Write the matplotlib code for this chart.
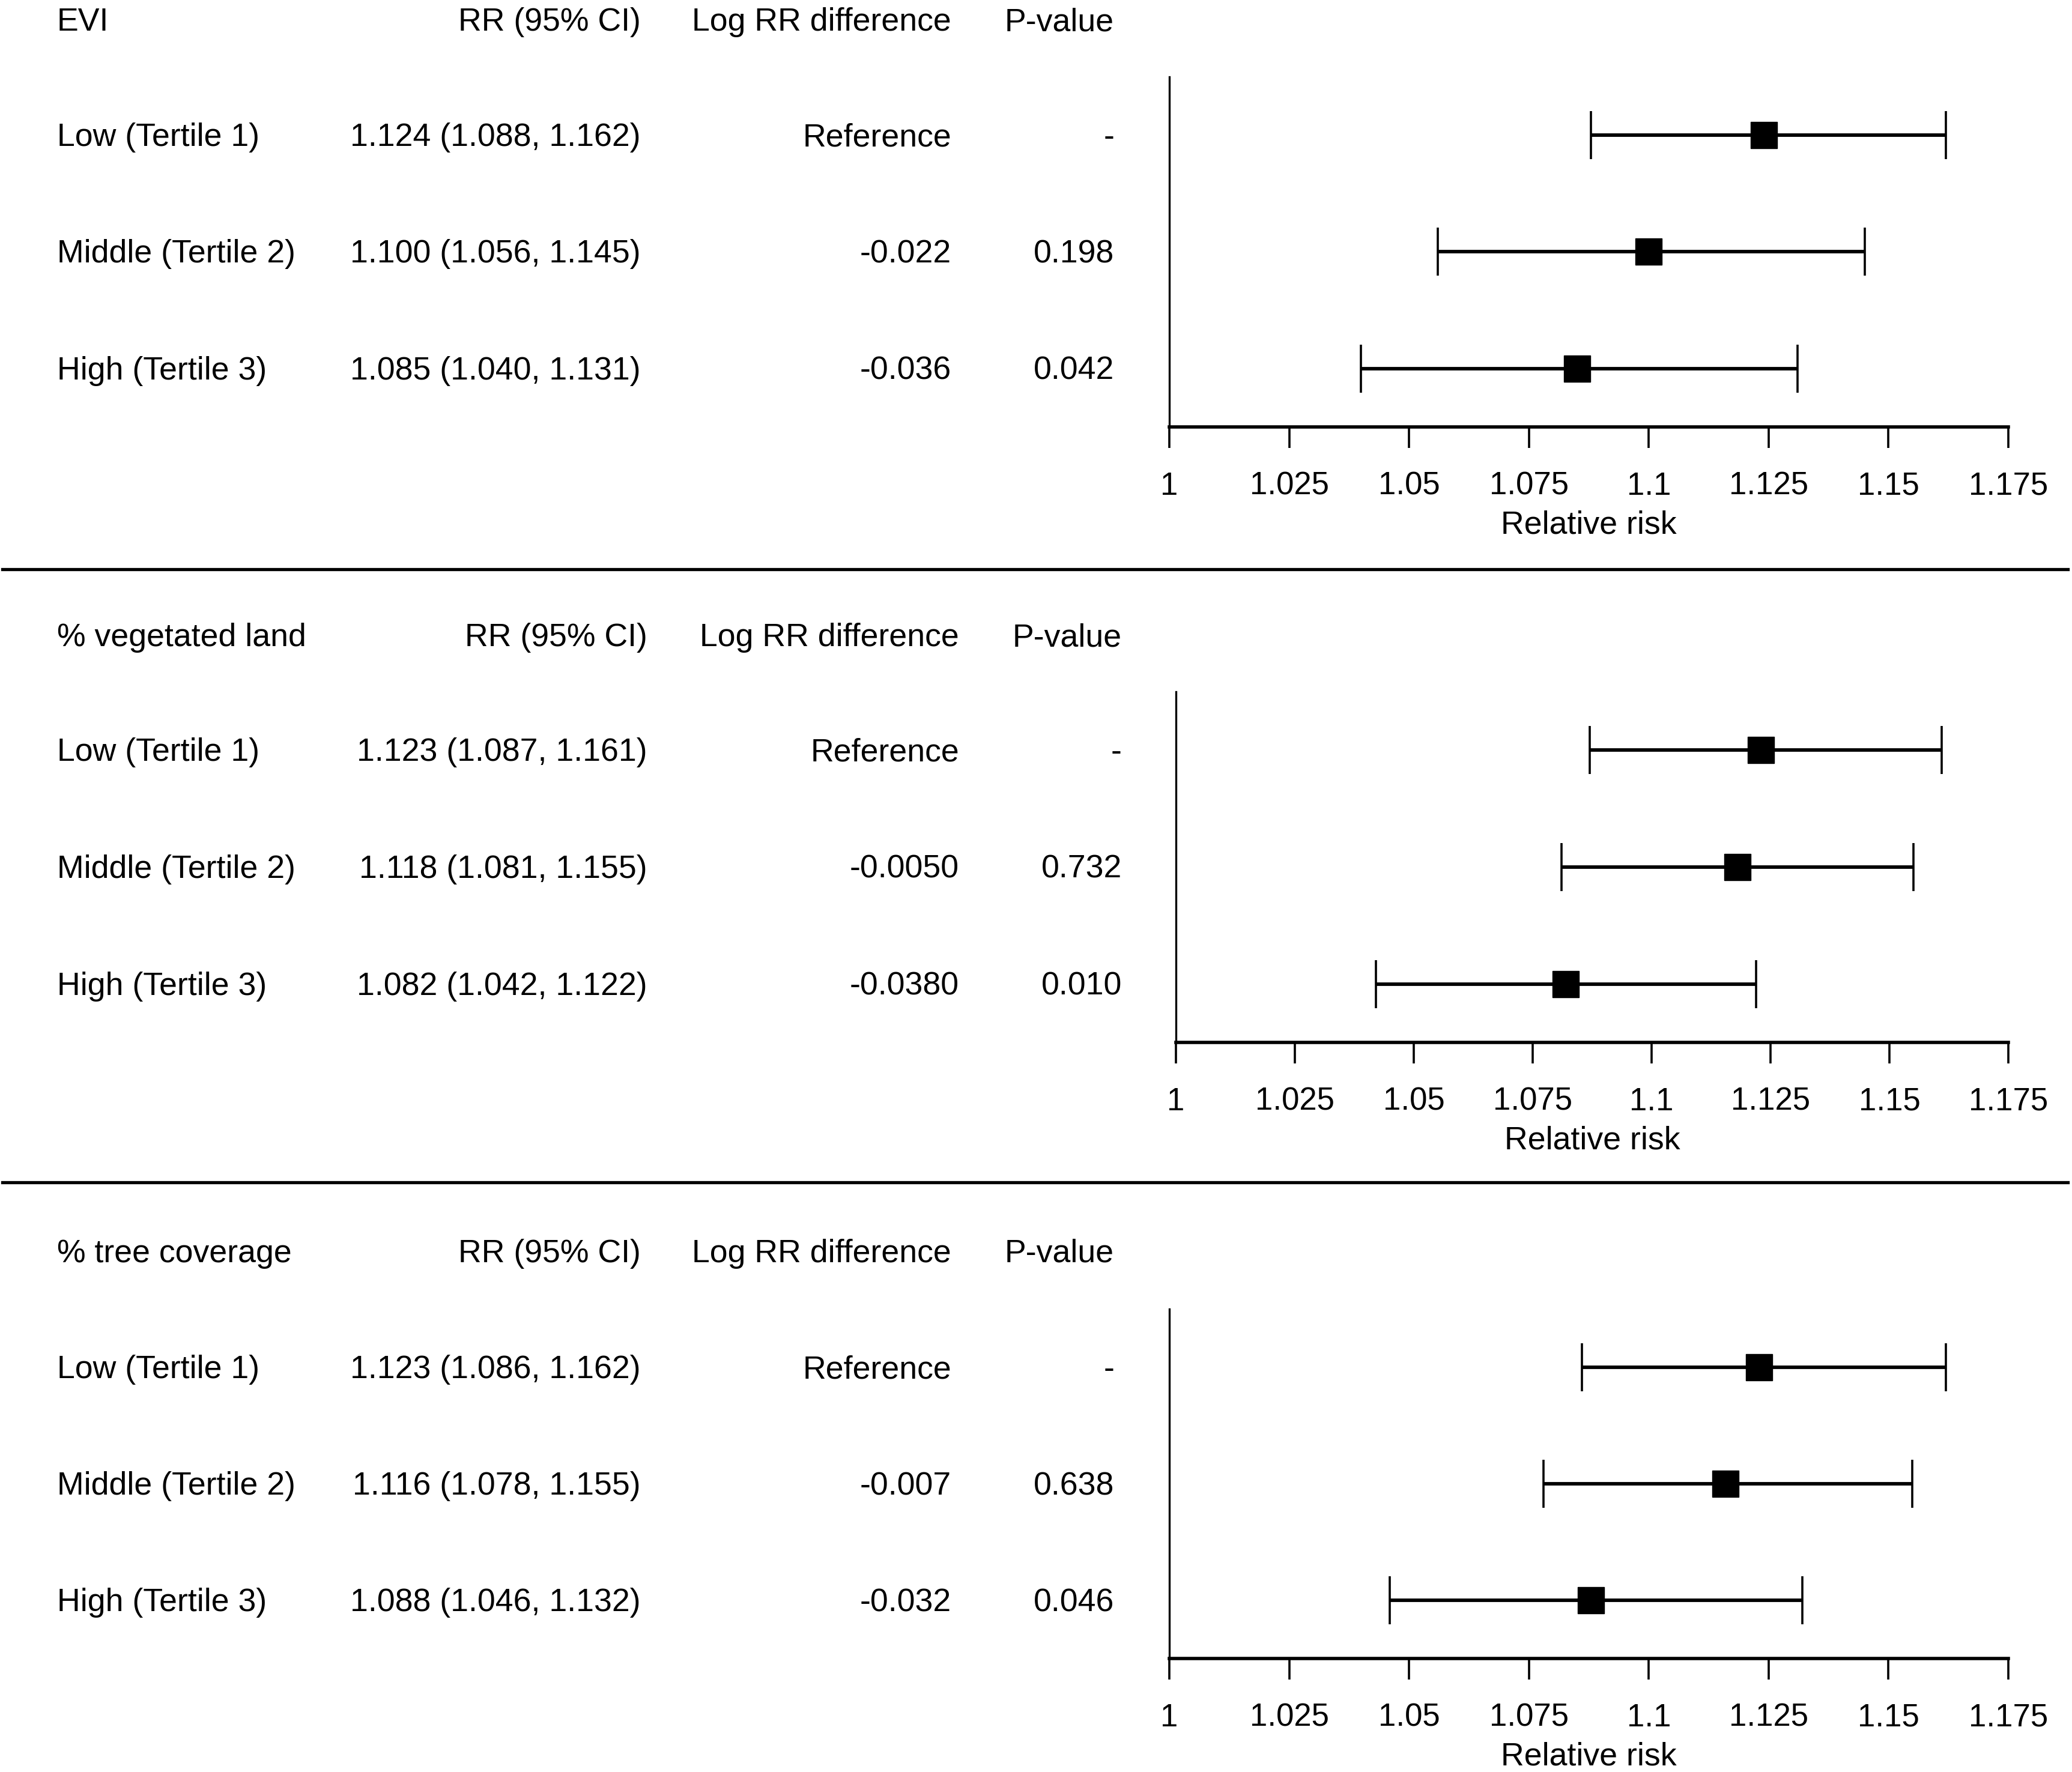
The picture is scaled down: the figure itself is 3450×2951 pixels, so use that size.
import matplotlib
matplotlib.use("Agg")
import matplotlib.pyplot as plt
from matplotlib.lines import Line2D

plt.rcParams['font.family'] = ['Liberation Sans', 'DejaVu Sans']

# ---------------- data ----------------
panel_titles = ["EVI", "% vegetated land", "% tree coverage"]
row_labels = ["Low (Tertile 1)", "Middle (Tertile 2)", "High (Tertile 3)"]

evi_rr = [1.124, 1.100, 1.085]
evi_lo = [1.088, 1.056, 1.040]
evi_hi = [1.162, 1.145, 1.131]
evi_logdiff = ["Reference", "-0.022", "-0.036"]
evi_p = ["-", "0.198", "0.042"]

veg_rr = [1.123, 1.118, 1.082]
veg_lo = [1.087, 1.081, 1.042]
veg_hi = [1.161, 1.155, 1.122]
veg_logdiff = ["Reference", "-0.0050", "-0.0380"]
veg_p = ["-", "0.732", "0.010"]

tree_rr = [1.123, 1.116, 1.088]
tree_lo = [1.086, 1.078, 1.046]
tree_hi = [1.162, 1.155, 1.132]
tree_logdiff = ["Reference", "-0.007", "-0.032"]
tree_p = ["-", "0.638", "0.046"]

col_headers = ["RR (95% CI)", "Log RR difference", "P-value"]
x_ticks = [1, 1.025, 1.05, 1.075, 1.1, 1.125, 1.15, 1.175]
x_ticklabels = ["1", "1.025", "1.05", "1.075", "1.1", "1.125", "1.15", "1.175"]
x_label = "Relative risk"

panels = [
    (panel_titles[0], evi_rr, evi_lo, evi_hi, evi_logdiff, evi_p),
    (panel_titles[1], veg_rr, veg_lo, veg_hi, veg_logdiff, veg_p),
    (panel_titles[2], tree_rr, tree_lo, tree_hi, tree_logdiff, tree_p),
]

# ---------------- layout (pixels) ----------------
W, H = 3450, 2951
DPI = 100
FS = 38.6
TFS = 38
fig = plt.figure(figsize=(W / DPI, H / DPI), dpi=DPI)

def fx(px):
    return px / W

def fy(py):
    return 1 - py / H

layout = [
    dict(hy=37, left=1947, top=128, bottom=711, cols=(1067, 1584, 1855)),
    dict(hy=1062, left=1958, top=1152, bottom=1736, cols=(1078, 1597, 1868)),
    dict(hy=2088, left=1947, top=2180, bottom=2762, cols=(1067, 1584, 1855)),
]
right_px = 3344
label_x = 95
separators = [948, 1969]
text_shift = 4  # px downward

for (title, rr, lo, hi, logd, pv), L in zip(panels, layout):
    fig.text(fx(label_x), fy(L['hy']), title, fontsize=FS, ha='left', va='center')
    for hdr, cx in zip(col_headers, L['cols']):
        fig.text(fx(cx), fy(L['hy']), hdr, fontsize=FS, ha='right', va='center')

    ax = fig.add_axes([fx(L['left']), fy(L['bottom']),
                       fx(right_px) - fx(L['left']),
                       fy(L['top']) - fy(L['bottom'])])
    ax.set_xlim(1, 1.175)
    ax.set_ylim(0.5, 3.5)
    ypos = [3, 2, 1]
    for y, r, l, h in zip(ypos, rr, lo, hi):
        ax.errorbar([r], [y], xerr=[[r - l], [h - r]], fmt='s', color='black',
                    markersize=31, elinewidth=4.2, capsize=29, capthick=2.6,
                    ecolor='black', mfc='black', mec='black')
    ax.spines['top'].set_visible(False)
    ax.spines['right'].set_visible(False)
    ax.spines['left'].set_linewidth(2.4)
    ax.spines['bottom'].set_linewidth(4.0)
    ax.set_yticks([])
    ax.set_xticks(x_ticks)
    ax.set_xticklabels(x_ticklabels, fontsize=TFS)
    ax.tick_params(axis='x', length=25, width=2.6, pad=28, direction='out')
    ax.set_xlabel(x_label, fontsize=FS, labelpad=11)
    ax.patch.set_visible(False)

    for y, lab, r, l, h, d, p in zip(ypos, row_labels, rr, lo, hi, logd, pv):
        disp_y = ax.transData.transform((1, y))[1] - text_shift
        yf = disp_y / H
        fig.text(fx(label_x), yf, lab, fontsize=FS, ha='left', va='center')
        fig.text(fx(L['cols'][0]), yf, f"{r:.3f} ({l:.3f}, {h:.3f})",
                 fontsize=FS, ha='right', va='center')
        fig.text(fx(L['cols'][1]), yf, d, fontsize=FS, ha='right', va='center')
        fig.text(fx(L['cols'][2]), yf, p, fontsize=FS, ha='right', va='center')

for sy in separators:
    fig.add_artist(Line2D([fx(4), fx(3443)], [fy(sy), fy(sy)],
                          transform=fig.transFigure, color='black', linewidth=3.8))

fig.savefig("out.png", dpi=DPI, facecolor='white')
